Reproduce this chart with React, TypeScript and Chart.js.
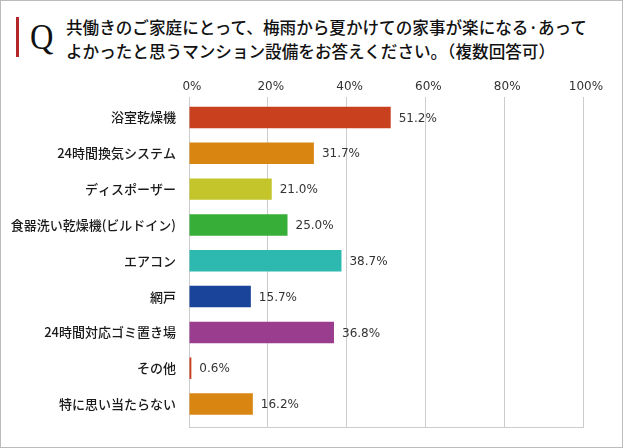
import React, { useEffect, useRef } from 'react';
import { Chart, registerables } from 'chart.js';

Chart.register(...registerables);

const categories = [
  '浴室乾燥機',
  '24時間換気システム',
  'ディスポーザー',
  '食器洗い乾燥機(ビルドイン)',
  'エアコン',
  '網戸',
  '24時間対応ゴミ置き場',
  'その他',
  '特に思い当たらない',
];
const values = [51.2, 31.7, 21.0, 25.0, 38.7, 15.7, 36.8, 0.6, 16.2];
const barColors = [
  '#c9401f',
  '#d98511',
  '#c3c52a',
  '#37ae38',
  '#2db8b0',
  '#1a4499',
  '#9a3d8f',
  '#c9401f',
  '#d98511',
];
const xTicks = [0, 20, 40, 60, 80, 100];

const titleLine1 = '共働きのご家庭にとって、梅雨から夏かけての家事が楽になる·あって';
const titleLine2 = 'よかったと思うマンション設備をお答えください。（複数回答可）';

const valueLabels = {
  id: 'valueLabels',
  afterDatasetsDraw(chart: any) {
    const ctx = chart.ctx;
    const meta = chart.getDatasetMeta(0);
    ctx.save();
    ctx.font = '12px "DejaVu Sans"';
    ctx.fillStyle = '#333333';
    ctx.textBaseline = 'middle';
    ctx.textAlign = 'left';
    meta.data.forEach((el: any, i: number) => {
      ctx.fillText(values[i].toFixed(1) + '%', el.x + 8, el.y + 1);
    });
    ctx.restore();
  },
};

export default function App() {
  const canvasRef = useRef<HTMLCanvasElement | null>(null);

  useEffect(() => {
    if (!canvasRef.current) return;
    const chart = new Chart(canvasRef.current, {
      type: 'bar',
      data: {
        datasets: [
          {
            data: values.map((v, i) => ({ x: v, y: i })) as any,
            backgroundColor: barColors,
            borderWidth: 0,
            barPercentage: 0.6,
            categoryPercentage: 1,
          },
        ],
      },
      options: {
        indexAxis: 'y',
        responsive: false,
        animation: false,
        layout: { padding: { left: 0, right: 40, top: 0, bottom: 0 } },
        plugins: {
          legend: { display: false },
          tooltip: { enabled: false },
        },
        scales: {
          x: {
            type: 'linear',
            axis: 'x',
            position: 'top',
            min: 0,
            max: 100,
            afterBuildTicks: (axis: any) => {
              axis.ticks = xTicks.map((v) => ({ value: v }));
            },
            ticks: {
              callback: (v: any) => v + '%',
              font: { family: 'DejaVu Sans', size: 12 },
              color: '#333333',
              padding: 3,
              labelOffset: 3,
              maxRotation: 0,
              autoSkip: false,
            },
            grid: { color: '#cccccc', drawTicks: false, lineWidth: 1 },
            border: { display: false },
            afterFit: (s: any) => {
              s.height = 27;
            },
          },
          xBottom: {
            type: 'linear',
            axis: 'x',
            position: 'bottom',
            min: 0,
            max: 100,
            ticks: { display: false },
            grid: { display: false, drawTicks: false },
            border: { display: true, color: '#cccccc', width: 1 },
            afterFit: (s: any) => {
              s.height = 21;
            },
          },
          y: {
            type: 'linear',
            axis: 'y',
            reverse: true,
            offset: false,
            min: -0.5725,
            max: 8.642,
            afterBuildTicks: (axis: any) => {
              axis.ticks = categories.map((_, i) => ({ value: i }));
            },
            ticks: {
              callback: (v: any) => categories[v],
              font: { family: 'Noto Sans CJK JP', size: 13, weight: '500' },
              color: '#1a1a1a',
              padding: 0,
              autoSkip: false,
            },
            grid: {
              display: true,
              offset: false,
              drawOnChartArea: false,
              drawTicks: true,
              tickLength: 13,
              tickColor: 'rgba(0,0,0,0)',
            },
            border: { display: true, color: '#cccccc' },
            afterFit: (s: any) => {
              s.width = 189;
            },
          },
        } as any,
      },
      plugins: [valueLabels],
    });
    return () => chart.destroy();
  }, []);

  return (
    <div
      style={{
        position: 'absolute',
        left: 0,
        top: 0,
        width: 623,
        height: 448,
        background: '#ffffff',
        overflow: 'hidden',
      }}
    >
      <div
        style={{
          position: 'absolute',
          left: 16,
          top: 17,
          width: 3,
          height: 40,
          background: '#b3262a',
        }}
      />
      <div
        style={{
          position: 'absolute',
          left: 29.5,
          top: 19,
          fontFamily: '"Liberation Serif", serif',
          fontSize: 36,
          lineHeight: '36px',
          color: '#111111',
          transform: 'scaleX(0.9)',
          transformOrigin: 'left top',
        }}
      >
        Q
      </div>
      <div
        style={{
          position: 'absolute',
          left: 66,
          top: 16,
          fontFamily: '"Noto Sans CJK JP", sans-serif',
          fontSize: 16.6,
          fontWeight: 500,
          lineHeight: '23.5px',
          color: '#111111',
          whiteSpace: 'nowrap',
        }}
      >
        {titleLine1}
        <br />
        {titleLine2}
      </div>
      <canvas
        ref={canvasRef}
        width={623}
        height={378}
        style={{ position: 'absolute', left: 0, top: 70, width: 623, height: 378 }}
      />
      <div
        style={{
          position: 'absolute',
          left: 0,
          top: 0,
          width: 623,
          height: 448,
          border: '1px solid #bbbbbb',
          boxSizing: 'border-box',
          pointerEvents: 'none',
        }}
      />
    </div>
  );
}
